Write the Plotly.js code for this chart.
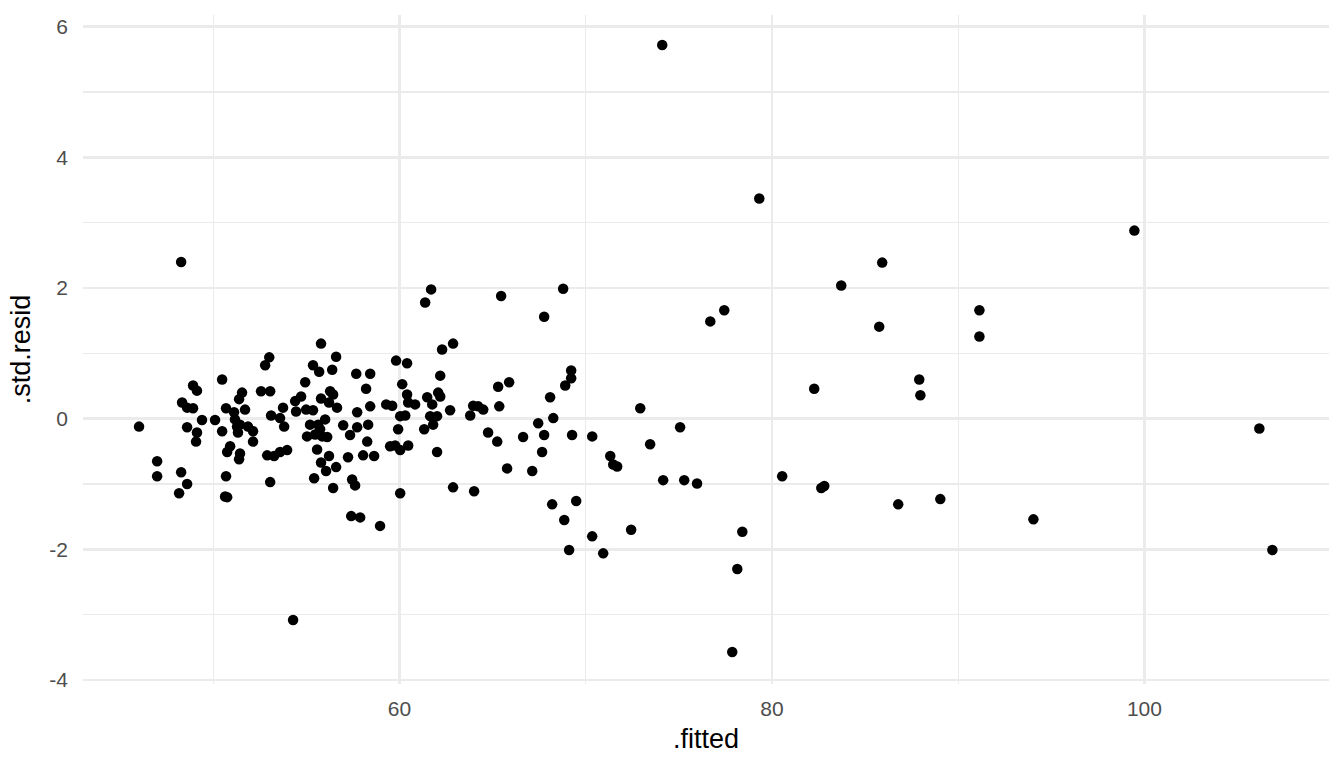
<!DOCTYPE html>
<html>
<head>
<meta charset="utf-8">
<script src="https://cdn.plot.ly/plotly-3.0.1.min.js"></script>
<style>html,body{margin:0;padding:0;background:#fff;}#chart{width:1344px;height:768px;}</style>
</head>
<body>
<div id="chart"></div>
<script>
var fitted = [
46.02,46.99,46.99,48.28,48.33,48.28,48.17,48.60,48.60,48.60,
48.92,48.92,49.13,49.13,49.08,49.40,50.10,50.48,50.69,50.48,
50.64,50.75,50.69,50.75,50.91,51.12,51.17,51.28,51.33,51.44,
51.39,51.55,51.44,51.39,51.71,51.87,52.14,52.14,52.57,53.06,
52.79,53.01,53.11,53.06,52.90,53.27,53.59,53.97,53.59,53.75,
53.81,54.29,54.40,54.45,54.72,54.94,54.99,55.04,55.20,55.36,
55.36,55.42,55.47,55.58,55.63,55.69,55.79,55.79,55.74,55.79,
55.85,56.01,56.06,56.12,56.22,56.22,56.28,56.39,56.44,56.44,
56.60,56.65,56.60,56.98,57.24,57.35,57.41,57.46,57.62,57.68,
57.73,57.73,57.89,58.05,58.21,58.27,58.32,58.43,58.43,58.64,
58.96,59.29,59.50,59.61,59.77,59.82,59.93,60.04,60.04,60.04,
60.15,60.31,60.41,60.41,60.47,60.47,60.84,61.33,61.38,61.49,
61.65,61.70,61.76,61.81,62.02,62.02,62.08,62.19,62.19,62.29,
62.72,62.88,62.88,63.80,63.96,64.01,64.23,64.50,64.76,65.25,
65.30,65.36,65.46,65.78,65.89,66.64,67.13,67.45,67.66,67.77,
67.77,68.09,68.20,68.26,68.79,68.85,68.90,69.11,69.22,69.22,
69.27,69.49,70.35,70.35,70.94,71.32,71.48,71.69,72.44,72.93,
73.46,74.11,74.16,75.07,75.29,75.98,76.69,77.44,77.87,78.14,
78.41,79.32,80.55,82.27,82.65,82.81,83.72,85.76,85.92,86.78,
87.91,87.97,89.04,91.14,91.14,94.04,99.46,106.17,106.87
];
var stdResid = [
-0.12,-0.65,-0.88,2.40,0.25,-0.82,-1.14,-1.00,-0.13,0.17,
0.16,0.51,0.43,-0.21,-0.35,-0.02,-0.02,0.60,0.16,-0.19,
-1.19,-1.20,-0.88,-0.51,-0.42,0.10,-0.01,-0.12,-0.21,-0.09,
0.30,0.40,-0.53,-0.62,0.14,-0.12,-0.19,-0.35,0.42,0.42,
0.82,0.94,0.05,-0.97,-0.56,-0.57,-0.51,-0.48,0.01,0.17,
-0.12,-3.08,0.27,0.11,0.34,0.56,0.14,-0.27,-0.09,0.13,
0.82,-0.91,-0.24,-0.47,-0.09,0.72,1.15,0.31,-0.16,-0.67,
-0.27,-0.01,-0.80,-0.28,0.25,-0.57,0.42,0.75,0.37,-1.06,
0.95,0.17,-0.74,-0.10,-0.59,-0.25,-1.49,-0.93,-1.02,0.69,
0.10,-0.13,-1.51,-0.56,0.46,-0.35,-0.09,0.69,0.19,-0.57,
-1.64,0.22,-0.42,0.20,-0.41,0.89,-0.16,0.04,-0.48,-1.14,
0.53,0.05,0.85,0.37,-0.41,0.25,0.22,-0.16,1.78,0.33,
0.04,1.98,0.22,-0.09,0.04,-0.51,0.40,0.66,0.34,1.06,
0.13,1.15,-1.05,0.05,0.20,-1.11,0.19,0.14,-0.21,-0.35,
0.49,0.19,1.88,-0.76,0.56,-0.28,-0.80,-0.07,-0.51,1.56,
-0.25,0.33,-1.31,0.01,1.99,-1.55,0.51,-2.01,0.74,0.62,
-0.25,-1.26,-0.27,-1.80,-2.06,-0.57,-0.70,-0.73,-1.70,0.16,
-0.39,5.72,-0.94,-0.13,-0.94,-0.99,1.49,1.66,-3.57,-2.30,
-1.73,3.37,-0.88,0.46,-1.06,-1.03,2.04,1.41,2.39,-1.31,
0.60,0.36,-1.23,1.66,1.26,-1.54,2.88,-0.15,-2.01
];
var xTicks = [60, 80, 100];
var yTicks = [-4, -2, 0, 2, 4, 6];

var trace = {
  x: fitted,
  y: stdResid,
  type: 'scatter',
  mode: 'markers',
  marker: {color: '#000000', size: 10.5, line: {width: 0}},
  hoverinfo: 'x+y'
};

var gridMajor = '#EBEBEB';
var layout = {
  width: 1344,
  height: 768,
  margin: {l: 83, r: 15, t: 15, b: 84, pad: 0},
  paper_bgcolor: '#ffffff',
  plot_bgcolor: '#ffffff',
  showlegend: false,
  font: {family: 'Liberation Sans, Arial, sans-serif', color: '#4D4D4D'},
  xaxis: {
    range: [43.01, 109.91],
    tickvals: xTicks,
    ticktext: xTicks.map(String),
    showgrid: true,
    gridcolor: gridMajor,
    gridwidth: 2.6,
    zeroline: false,
    showline: false,
    ticks: '',
    ticklabelstandoff: 10,
    tickfont: {size: 21, color: '#4D4D4D'},
    minor: {dtick: 10, tick0: 0, showgrid: true, gridcolor: gridMajor, gridwidth: 1.3, ticks: ''},
    title: {text: '.fitted', font: {size: 27, color: '#000000'}, standoff: 10},
    automargin: false
  },
  yaxis: {
    range: [-4.06, 6.18],
    tickvals: yTicks,
    ticktext: yTicks.map(String),
    showgrid: true,
    gridcolor: gridMajor,
    gridwidth: 2.6,
    zeroline: false,
    showline: false,
    ticks: '',
    ticklabelstandoff: 14,
    tickfont: {size: 21, color: '#4D4D4D'},
    minor: {dtick: 1, tick0: 0, showgrid: true, gridcolor: gridMajor, gridwidth: 1.3, ticks: ''},
    title: {text: '.std.resid', font: {size: 27, color: '#000000'}, standoff: 10},
    automargin: false
  }
};

Plotly.newPlot('chart', [trace], layout, {displayModeBar: false, staticPlot: true});
</script>
</body>
</html>
